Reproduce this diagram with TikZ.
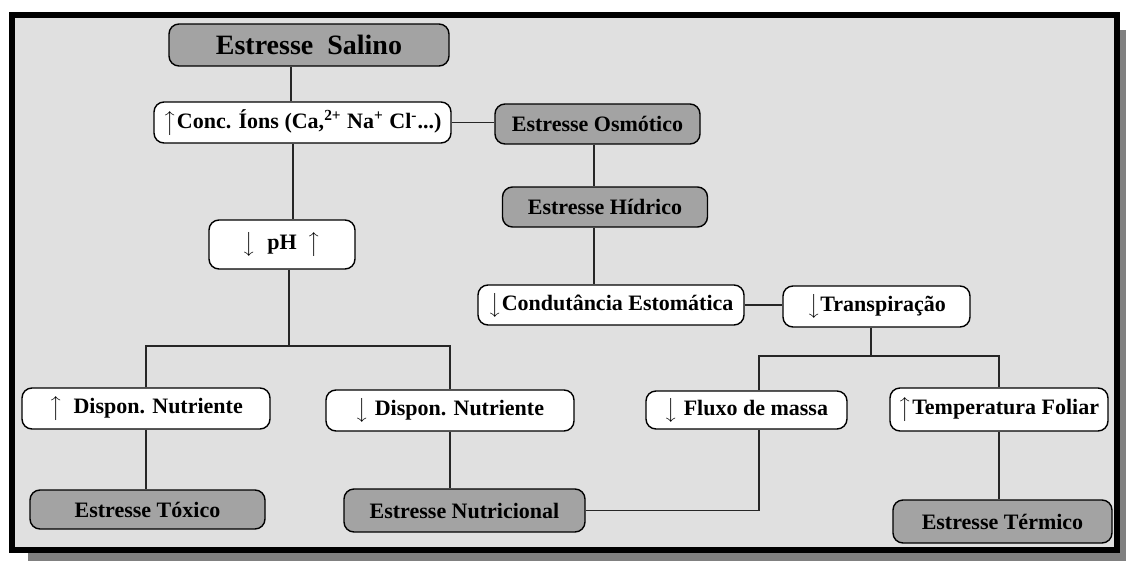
\documentclass[tikz,border=0pt]{standalone}
\usepackage{fontspec}
\setmainfont{Liberation Serif}
\usepackage{tikz}
\tikzstyle{escuro} = [rectangle, rounded corners=5pt, draw=black, fill=black!36, line width=0.7pt, inner sep=0pt, text centered]
\tikzstyle{claro} = [rectangle, rounded corners=5pt, draw=black, fill=white, line width=0.7pt, inner sep=0pt, text centered]
\tikzstyle{linha} = [line width=0.6pt, black!85]
\tikzstyle{every node}=[font=\bfseries\fontsize{11}{13}\selectfont]

\begin{document}
\begin{tikzpicture}[x=0.5pt, y=-0.5pt]
		\useasboundingbox (0,0) rectangle (1126,563);
		%moldura com sombra
		\fill [black!50] (28,30) rectangle (1126,561);
		\fill [black!12] (12,15) rectangle (1117,550);
		\draw [line width=3pt] (12,15) rectangle (1117,550);
		
		%caixas do diagrama
		\node (salino) [escuro, minimum width=140pt, minimum height=21pt, font=\bfseries\fontsize{14}{16}\selectfont] at (309,45) {Estresse\ \ Salino};
		\node (conc) [claro, minimum width=148.5pt, minimum height=20.5pt] at (302.5,122.5) {$\big\uparrow$Conc. Íons (Ca,\textsuperscript{2+} Na\textsuperscript{+} Cl\textsuperscript{-}...)};
		\node (osmo) [escuro, minimum width=102.5pt, minimum height=20pt] at (597.5,124) {Estresse Osmótico};
		\node (hidrico) [escuro, minimum width=102.5pt, minimum height=20pt] at (605,207) {Estresse Hídrico};
		\node (ph) [claro, minimum width=73pt, minimum height=24.5pt] at (282,244.5) {$\big\downarrow$\ \ pH\ \ $\big\uparrow$};
		\node (conduta) [claro, minimum width=133pt, minimum height=20pt] at (611,305) {$\big\downarrow$Condutância Estomática};
		\node (transp) [claro, minimum width=93.5pt, minimum height=20.5pt] at (876.5,306.5) {$\big\downarrow$Transpiração};
		\node (updisp) [claro, minimum width=124pt, minimum height=20.5pt] at (146,408.5) {$\big\uparrow$\ \ Dispon. Nutriente};
		\node (downdisp) [claro, minimum width=124pt, minimum height=20.5pt] at (450,410.5) {$\big\downarrow$\ Dispon. Nutriente};
		\node (fluxo) [claro, minimum width=100.5pt, minimum height=19pt] at (746.5,410) {$\big\downarrow$\ Fluxo de massa};
		\node (temp) [claro, minimum width=109pt, minimum height=21.5pt] at (999,409.5) {$\big\uparrow$Temperatura Foliar};
		\node (toxico) [escuro, minimum width=117.5pt, minimum height=19.5pt] at (147.5,509.5) {Estresse Tóxico};
		\node (nutri) [escuro, minimum width=120.5pt, minimum height=21.5pt] at (464.5,510.5) {Estresse Nutricional};
		\node (termico) [escuro, minimum width=109.5pt, minimum height=21.5pt] at (1002.5,521.5) {Estresse Térmico};
		
		%pontos auxiliares das ligações
		\coordinate (xa) at (291,0);
		\coordinate (xb) at (293,0);
		\coordinate (xd) at (594,0);
		\coordinate (xe) at (759,0);
		\coordinate (ramo1) at (289,346);
		\coordinate (ramo2) at (871,356);
		
		%ligações
		\draw [linha] (salino.south -| xa) -- (conc.north -| xa);
		\draw [linha] (conc.east) -- (conc.east -| osmo.west);
		\draw [linha] (conc.south -| xb) -- (ph.north -| xb);
		\draw [linha] (osmo.south -| xd) -- (hidrico.north -| xd);
		\draw [linha] (hidrico.south -| xd) -- (conduta.north -| xd);
		\draw [linha] (conduta.east) -- (conduta.east -| transp.west);
		\draw [linha] (ph.south -| ramo1) -- (ramo1);
		\draw [linha] (updisp.north) |- (ramo1) -| (downdisp.north);
		\draw [linha] (updisp.south) -- (updisp.south |- toxico.north);
		\draw [linha] (downdisp.south) -- (downdisp.south |- nutri.north);
		\draw [linha] (transp.south -| ramo2) -- (ramo2);
		\draw [linha] (fluxo.north -| xe) |- (ramo2) -| (temp.north);
		\draw [linha] (temp.south) -- (temp.south |- termico.north);
		\draw [linha] (nutri.east) -| (fluxo.south -| xe);
	\end{tikzpicture}
\end{document}
